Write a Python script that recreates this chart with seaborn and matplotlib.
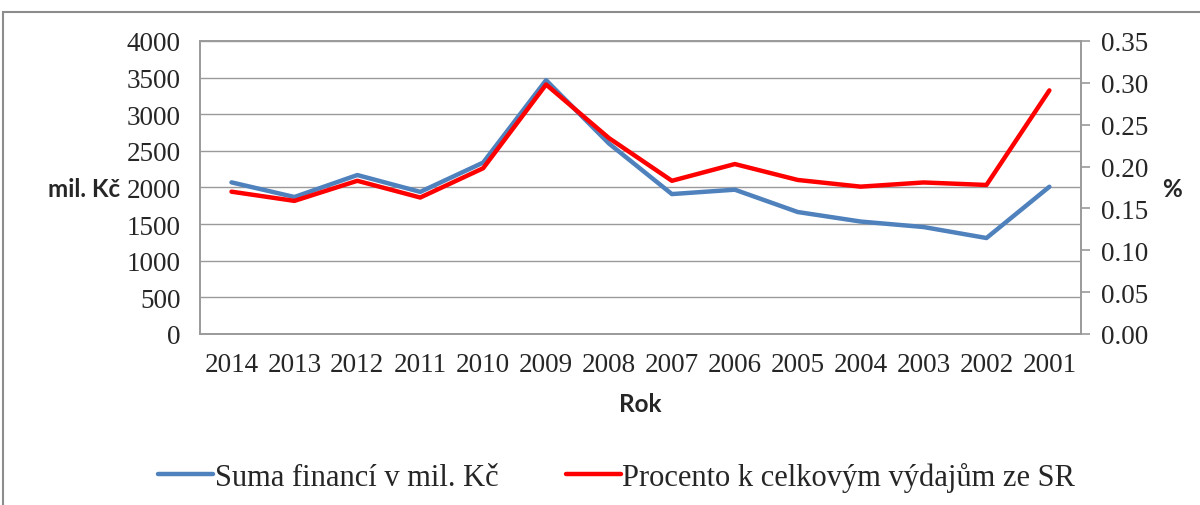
import pandas as pd
import matplotlib
matplotlib.use("Agg")
import matplotlib.pyplot as plt
from matplotlib.patches import Rectangle
from matplotlib.lines import Line2D
import seaborn as sns

# data
roky = ["2014", "2013", "2012", "2011", "2010", "2009", "2008",
        "2007", "2006", "2005", "2004", "2003", "2002", "2001"]
suma = [2070, 1870, 2170, 1940, 2340, 3465, 2600,
        1910, 1970, 1665, 1535, 1460, 1310, 2010]
procento = [0.170, 0.159, 0.183, 0.163, 0.198, 0.298, 0.234,
            0.183, 0.203, 0.184, 0.176, 0.181, 0.178, 0.291]

df = pd.DataFrame({"Rok": roky, "suma": suma, "procento": procento})

sns.set_style("white")
serif = ["Liberation Serif", "DejaVu Serif"]
sans = ["Lato", "DejaVu Sans"]
grey = "#9a9a9a"
blue = "#4F81BD"
red = "#FF0000"

fig = plt.figure(figsize=(12, 5.06), dpi=100)
ax = fig.add_axes([0.1667, 0.338, 0.734, 0.579])
ax2 = ax.twinx()

sns.lineplot(data=df, x="Rok", y="suma", ax=ax, color=blue, lw=3.2, sort=False)
sns.lineplot(data=df, x="Rok", y="procento", ax=ax2, color=red, lw=3.2, sort=False)

ax.set_xlim(-0.5, len(roky) - 0.5)
ax.set_ylim(0, 4000)
ax.set_yticks(range(0, 4001, 500))
ax2.set_ylim(0, 0.35)
ax2.set_yticks([i * 0.05 for i in range(8)])
ax2.set_yticklabels([f"{i * 0.05:.2f}" for i in range(8)])

ax.grid(axis="y", color=grey, lw=1)
ax.set_axisbelow(True)
for a in (ax, ax2):
    for s in a.spines.values():
        s.set_color(grey)
        s.set_linewidth(1.2)
ax.tick_params(axis="y", length=0, labelsize=19.5, pad=14)
ax.tick_params(axis="x", length=0, labelsize=19.5, pad=13)
ax2.tick_params(axis="y", length=6.5, width=1.2, color=grey, labelsize=19.5, pad=8)
for lab in ax.get_xticklabels() + ax.get_yticklabels() + ax2.get_yticklabels():
    lab.set_family(serif)

ax.set_xlabel("Rok", family=sans, fontweight="bold", fontsize=17.5, va="center")
ax.xaxis.set_label_coords(0.5, -0.239)
ax.set_ylabel("mil. Kč", family=sans, fontweight="bold", fontsize=17.5,
              rotation=0, ha="right", va="center")
ax.yaxis.set_label_coords(-0.091, 0.495)
ax2.set_ylabel("%", family=sans, fontweight="bold", fontsize=17.5,
               rotation=0, ha="left", va="center")
ax2.yaxis.set_label_coords(1.092, 0.495)

handles = [Line2D([], [], color=blue, lw=3.2), Line2D([], [], color=red, lw=3.2)]
fig.legend(handles, ["Suma financí v mil. Kč", "Procento k celkovým výdajům ze SR"],
           loc="center", bbox_to_anchor=(0.514, 0.055), ncol=2, frameon=False,
           prop={"family": serif, "size": 22}, handlelength=1.8,
           handletextpad=0.05, columnspacing=2.2)

# chart area border
fig.patches.append(Rectangle((0.0025, -0.1), 1.2, 1.074, transform=fig.transFigure,
                             fill=False, edgecolor="#8c8c8c", lw=1.5, clip_on=False))

fig.savefig("out.png", dpi=100)
